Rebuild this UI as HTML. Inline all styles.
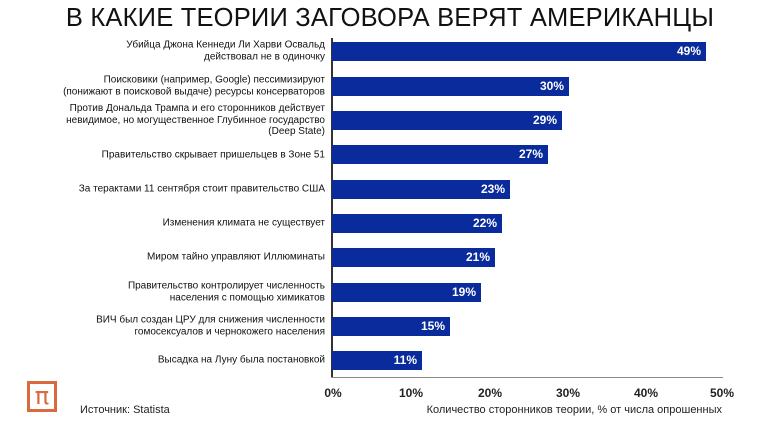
<html><head><style>
body{margin:0;width:780px;height:439px;background:#fff;font-family:"Liberation Sans",sans-serif;position:relative;overflow:hidden}
.t{position:absolute;left:0;width:780px;top:4px;text-align:center;font-size:25.5px;color:#111;letter-spacing:0.2px}
.b{position:absolute;left:332px;height:19px;background:#0a2b9b;color:#fff;font-weight:bold;font-size:12px;text-align:right;line-height:19px;box-sizing:border-box;padding-right:5px}
.l{position:absolute;right:455px;text-align:right;font-size:10px;line-height:11.5px;color:#111;transform:translateY(-50%);white-space:nowrap}
.x{position:absolute;top:386px;font-size:12px;font-weight:bold;color:#222;transform:translateX(-50%)}
</style></head><body>
<div class="t">В КАКИЕ ТЕОРИИ ЗАГОВОРА ВЕРЯТ АМЕРИКАНЦЫ</div>
<div style="position:absolute;left:331px;top:38px;width:2px;height:340px;background:#333"></div>
<div style="position:absolute;left:331px;top:377px;width:392px;height:1px;background:#888"></div>
<div class="b" style="top:42px;width:374px">49%</div>
<div class="b" style="top:77px;width:237px">30%</div>
<div class="b" style="top:111px;width:230px">29%</div>
<div class="b" style="top:145px;width:216px">27%</div>
<div class="b" style="top:180px;width:178px">23%</div>
<div class="b" style="top:214px;width:170px">22%</div>
<div class="b" style="top:248px;width:163px">21%</div>
<div class="b" style="top:283px;width:149px">19%</div>
<div class="b" style="top:317px;width:118px">15%</div>
<div class="b" style="top:351px;width:90px">11%</div>
<div class="l" style="top:51px">Убийца Джона Кеннеди Ли Харви Освальд<br>действовал не в одиночку</div>
<div class="l" style="top:86px">Поисковики (например, Google) пессимизируют<br>(понижают в поисковой выдаче) ресурсы консерваторов</div>
<div class="l" style="top:120px">Против Дональда Трампа и его сторонников действует<br>невидимое, но могущественное Глубинное государство<br>(Deep State)</div>
<div class="l" style="top:155px">Правительство скрывает пришельцев в Зоне 51</div>
<div class="l" style="top:189px">За терактами 11 сентября стоит правительство США</div>
<div class="l" style="top:223px">Изменения климата не существует</div>
<div class="l" style="top:257px">Миром тайно управляют Иллюминаты</div>
<div class="l" style="top:292px">Правительство контролирует численность<br>населения с помощью химикатов</div>
<div class="l" style="top:326px">ВИЧ был создан ЦРУ для снижения численности<br>гомосексуалов и чернокожего населения</div>
<div class="l" style="top:360px">Высадка на Луну была постановкой</div>
<div class="x" style="left:333px">0%</div><div class="x" style="left:411px">10%</div><div class="x" style="left:490px">20%</div><div class="x" style="left:568px">30%</div><div class="x" style="left:646px">40%</div><div class="x" style="left:722px">50%</div>
<div style="position:absolute;right:58px;top:404px;font-size:11px;color:#222">Количество сторонников теории, % от числа опрошенных</div>
<div style="position:absolute;left:27px;top:381px;width:30px;height:31px;border:3px solid #d9693f;box-sizing:border-box;color:#d9693f;font-size:24px;text-align:center;line-height:25px;font-family:'DejaVu Sans',sans-serif">π</div>
<div style="position:absolute;left:80px;top:404px;font-size:11px;color:#222">Источник: Statista</div>
</body></html>
